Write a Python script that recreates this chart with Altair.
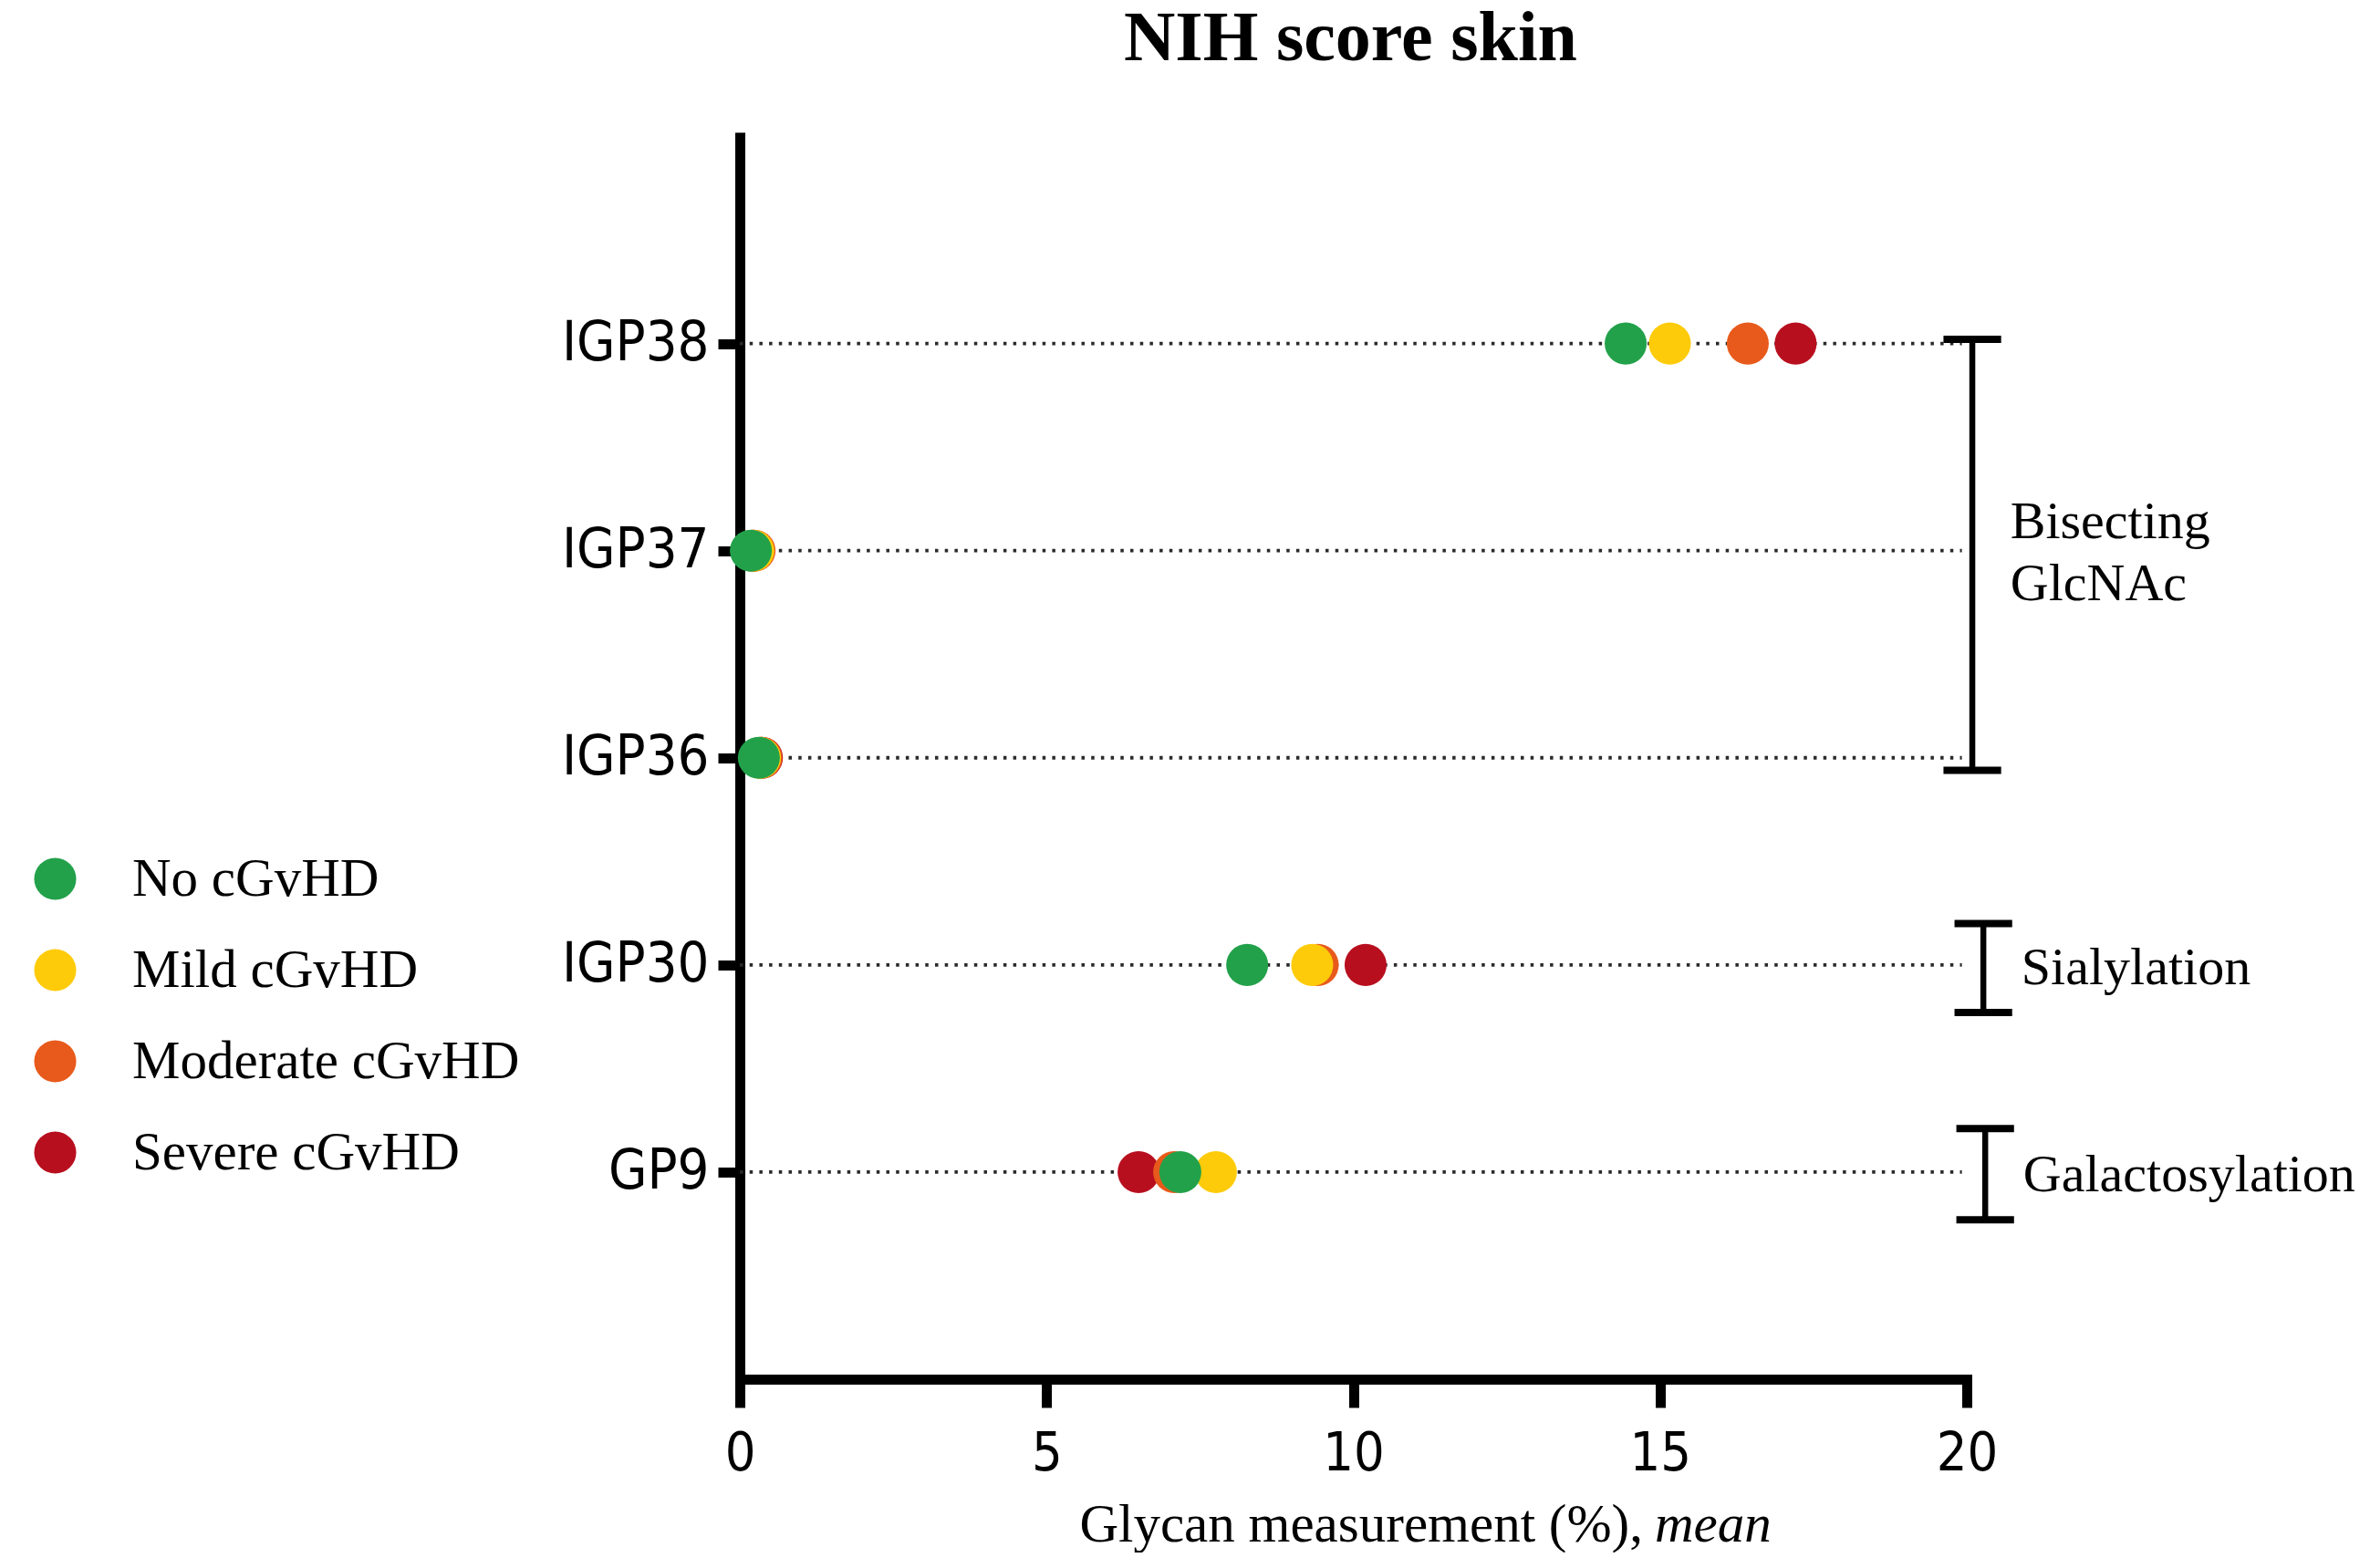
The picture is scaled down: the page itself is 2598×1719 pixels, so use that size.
import altair as alt
import pandas as pd

# ---------------- data ----------------
categories = ["IGP38", "IGP37", "IGP36", "IGP30", "GP9"]          # top to bottom
groups = ["No cGvHD", "Mild cGvHD", "Moderate cGvHD", "Severe cGvHD"]
colors = ["#22A14A", "#FECB0A", "#E85A1B", "#B80F1F"]

no_vals = [14.44, 0.18, 0.31, 8.27, 7.18]
mild_vals = [15.16, 0.22, 0.33, 9.33, 7.76]
moderate_vals = [16.43, 0.24, 0.35, 9.42, 7.08]
severe_vals = [17.21, 0.21, 0.36, 10.20, 6.50]

bracket_names = ["Bisecting GlcNAc", "Sialylation", "Galactosylation"]
bracket_from = ["IGP36", "IGP30", "GP9"]
bracket_to = ["IGP38", "IGP30", "GP9"]
bracket_lines = [["Bisecting", "GlcNAc"], ["Sialylation"], ["Galactosylation"]]

x_ticks = [0, 5, 10, 15, 20]
title_text = "NIH score skin"
x_title_plain = "Glycan measurement (%),"
x_title_italic = "mean"

# ---------------- layout ----------------
PLOT_W, PLOT_H = 1345, 1367
Y_MAX = 6.02
Y_UNIT = PLOT_H / Y_MAX
SANS = "DejaVu Sans Condensed, DejaVu Sans"
SERIF = "Liberation Serif"

pos = {c: len(categories) - i for i, c in enumerate(categories)}

# points, drawn severe first so "No cGvHD" sits on top
series = [severe_vals, moderate_vals, mild_vals, no_vals]
series_names = [groups[3], groups[2], groups[1], groups[0]]
rows = []
for name, vals in zip(series_names, series):
    for c, v in zip(categories, vals):
        rows.append({"glycan": c, "pos": pos[c], "value": v, "group": name})
pts = pd.DataFrame(rows)

lines = pd.DataFrame({"glycan": categories,
                      "pos": [pos[c] for c in categories],
                      "x0": 0.0, "x1": 19.92})

bracket_x = [20.09, 20.27, 20.30]
ext_lo = [0.06, 0.23, 0.23]
ext_hi = [0.02, 0.20, 0.21]
cap_half = 0.47

vert, caps, texts = [], [], []
for i, name in enumerate(bracket_names):
    lo = pos[bracket_from[i]] - ext_lo[i]
    hi = pos[bracket_to[i]] + ext_hi[i]
    bx = bracket_x[i]
    vert.append({"name": name, "x": bx, "y": lo, "y2": hi})
    caps.append({"name": name, "x": bx - cap_half, "x2": bx + cap_half, "y": lo})
    caps.append({"name": name, "x": bx - cap_half, "x2": bx + cap_half, "y": hi})
    center = (pos[bracket_from[i]] + pos[bracket_to[i]]) / 2
    ls = bracket_lines[i]
    offs = [-14, 54] if len(ls) == 2 else [21]
    for t, o in zip(ls, offs):
        texts.append({"text": t, "x": bx + 0.62, "y": center - o / Y_UNIT})
vert = pd.DataFrame(vert)
caps = pd.DataFrame(caps)
texts = pd.DataFrame(texts)

label_list = [""] + [c for c in reversed(categories)]
label_expr = "[" + ",".join("'%s'" % s for s in label_list) + "][datum.value]"

xscale = alt.Scale(domain=[0, 20], nice=False, zero=True)
yscale = alt.Scale(domain=[0, Y_MAX], nice=False)

x_axis = alt.Axis(values=x_ticks, format="d", title=None, grid=False,
                  domainWidth=11, domainColor="black", domainCap="square",
                  tickWidth=11, tickSize=31, tickColor="black",
                  labelFont=SANS, labelFontSize=59, labelColor="black",
                  labelPadding=21, labelFlush=False, labelOverlap=False)
y_axis = alt.Axis(values=[1, 2, 3, 4, 5], labelExpr=label_expr, title=None,
                  grid=False, domainWidth=11, domainColor="black",
                  tickWidth=11, tickSize=24, tickColor="black",
                  labelFont=SANS, labelFontSize=61, labelColor="black",
                  labelPadding=10, labelFlush=False, labelOverlap=False)

base_rule = alt.Chart(lines).mark_rule(
    strokeDash=[3.5, 7.2], strokeWidth=3.8, color="#2a2a2a"
).encode(
    x=alt.X("x0:Q", scale=xscale, axis=x_axis),
    x2="x1:Q",
    y=alt.Y("pos:Q", scale=yscale, axis=y_axis),
)

points = alt.Chart(pts).mark_circle(size=2124, opacity=1).encode(
    x=alt.X("value:Q", scale=xscale),
    y=alt.Y("pos:Q", scale=yscale),
    color=alt.Color(
        "group:N",
        scale=alt.Scale(domain=groups, range=colors),
        legend=alt.Legend(
            orient="none", legendX=-780, legendY=789, title=None,
            symbolType="circle", symbolSize=2124, symbolStrokeWidth=0,
            symbolOpacity=1, labelFont=SERIF, labelFontSize=59,
            labelColor="black", labelOffset=55, rowPadding=40, padding=0,
            labelLimit=1000,
        ),
    ),
)

vrules = alt.Chart(vert).mark_rule(color="black", strokeWidth=6.5).encode(
    x=alt.X("x:Q", scale=xscale), y=alt.Y("y:Q", scale=yscale), y2="y2:Q"
)
crules = alt.Chart(caps).mark_rule(color="black", strokeWidth=8).encode(
    x=alt.X("x:Q", scale=xscale), x2="x2:Q", y=alt.Y("y:Q", scale=yscale)
)
btext = alt.Chart(texts).mark_text(
    align="left", baseline="alphabetic", font=SERIF, fontSize=58, color="black"
).encode(
    x=alt.X("x:Q", scale=xscale), y=alt.Y("y:Q", scale=yscale), text="text:N"
)

xt_plain = alt.Chart(pd.DataFrame({"t": [x_title_plain]})).mark_text(
    align="right", baseline="alphabetic", font=SERIF, fontSize=59, color="black"
).encode(x=alt.value(990), y=alt.value(1545), text="t:N")
xt_italic = alt.Chart(pd.DataFrame({"t": [x_title_italic]})).mark_text(
    align="left", baseline="alphabetic", font=SERIF, fontSize=59,
    fontStyle="italic", color="black"
).encode(x=alt.value(1003), y=alt.value(1545), text="t:N")

title_mark = alt.Chart(pd.DataFrame({"t": [title_text]})).mark_text(
    align="center", baseline="alphabetic", font=SERIF, fontSize=78,
    fontWeight="bold", color="black"
).encode(x=alt.value(PLOT_W / 2 - 3), y=alt.value(-79), text="t:N")

chart = alt.layer(
    base_rule, points, vrules, crules, btext, xt_plain, xt_italic, title_mark
).properties(
    width=PLOT_W, height=PLOT_H,
    autosize=alt.AutoSizeParams(type="none"),
    padding={"left": 803, "top": 137, "right": 433, "bottom": 190},
).configure(
    background="white",
    view=alt.ViewConfig(stroke=None),
)

chart.save("out.html", embed_options={"renderer": "svg", "actions": False})
